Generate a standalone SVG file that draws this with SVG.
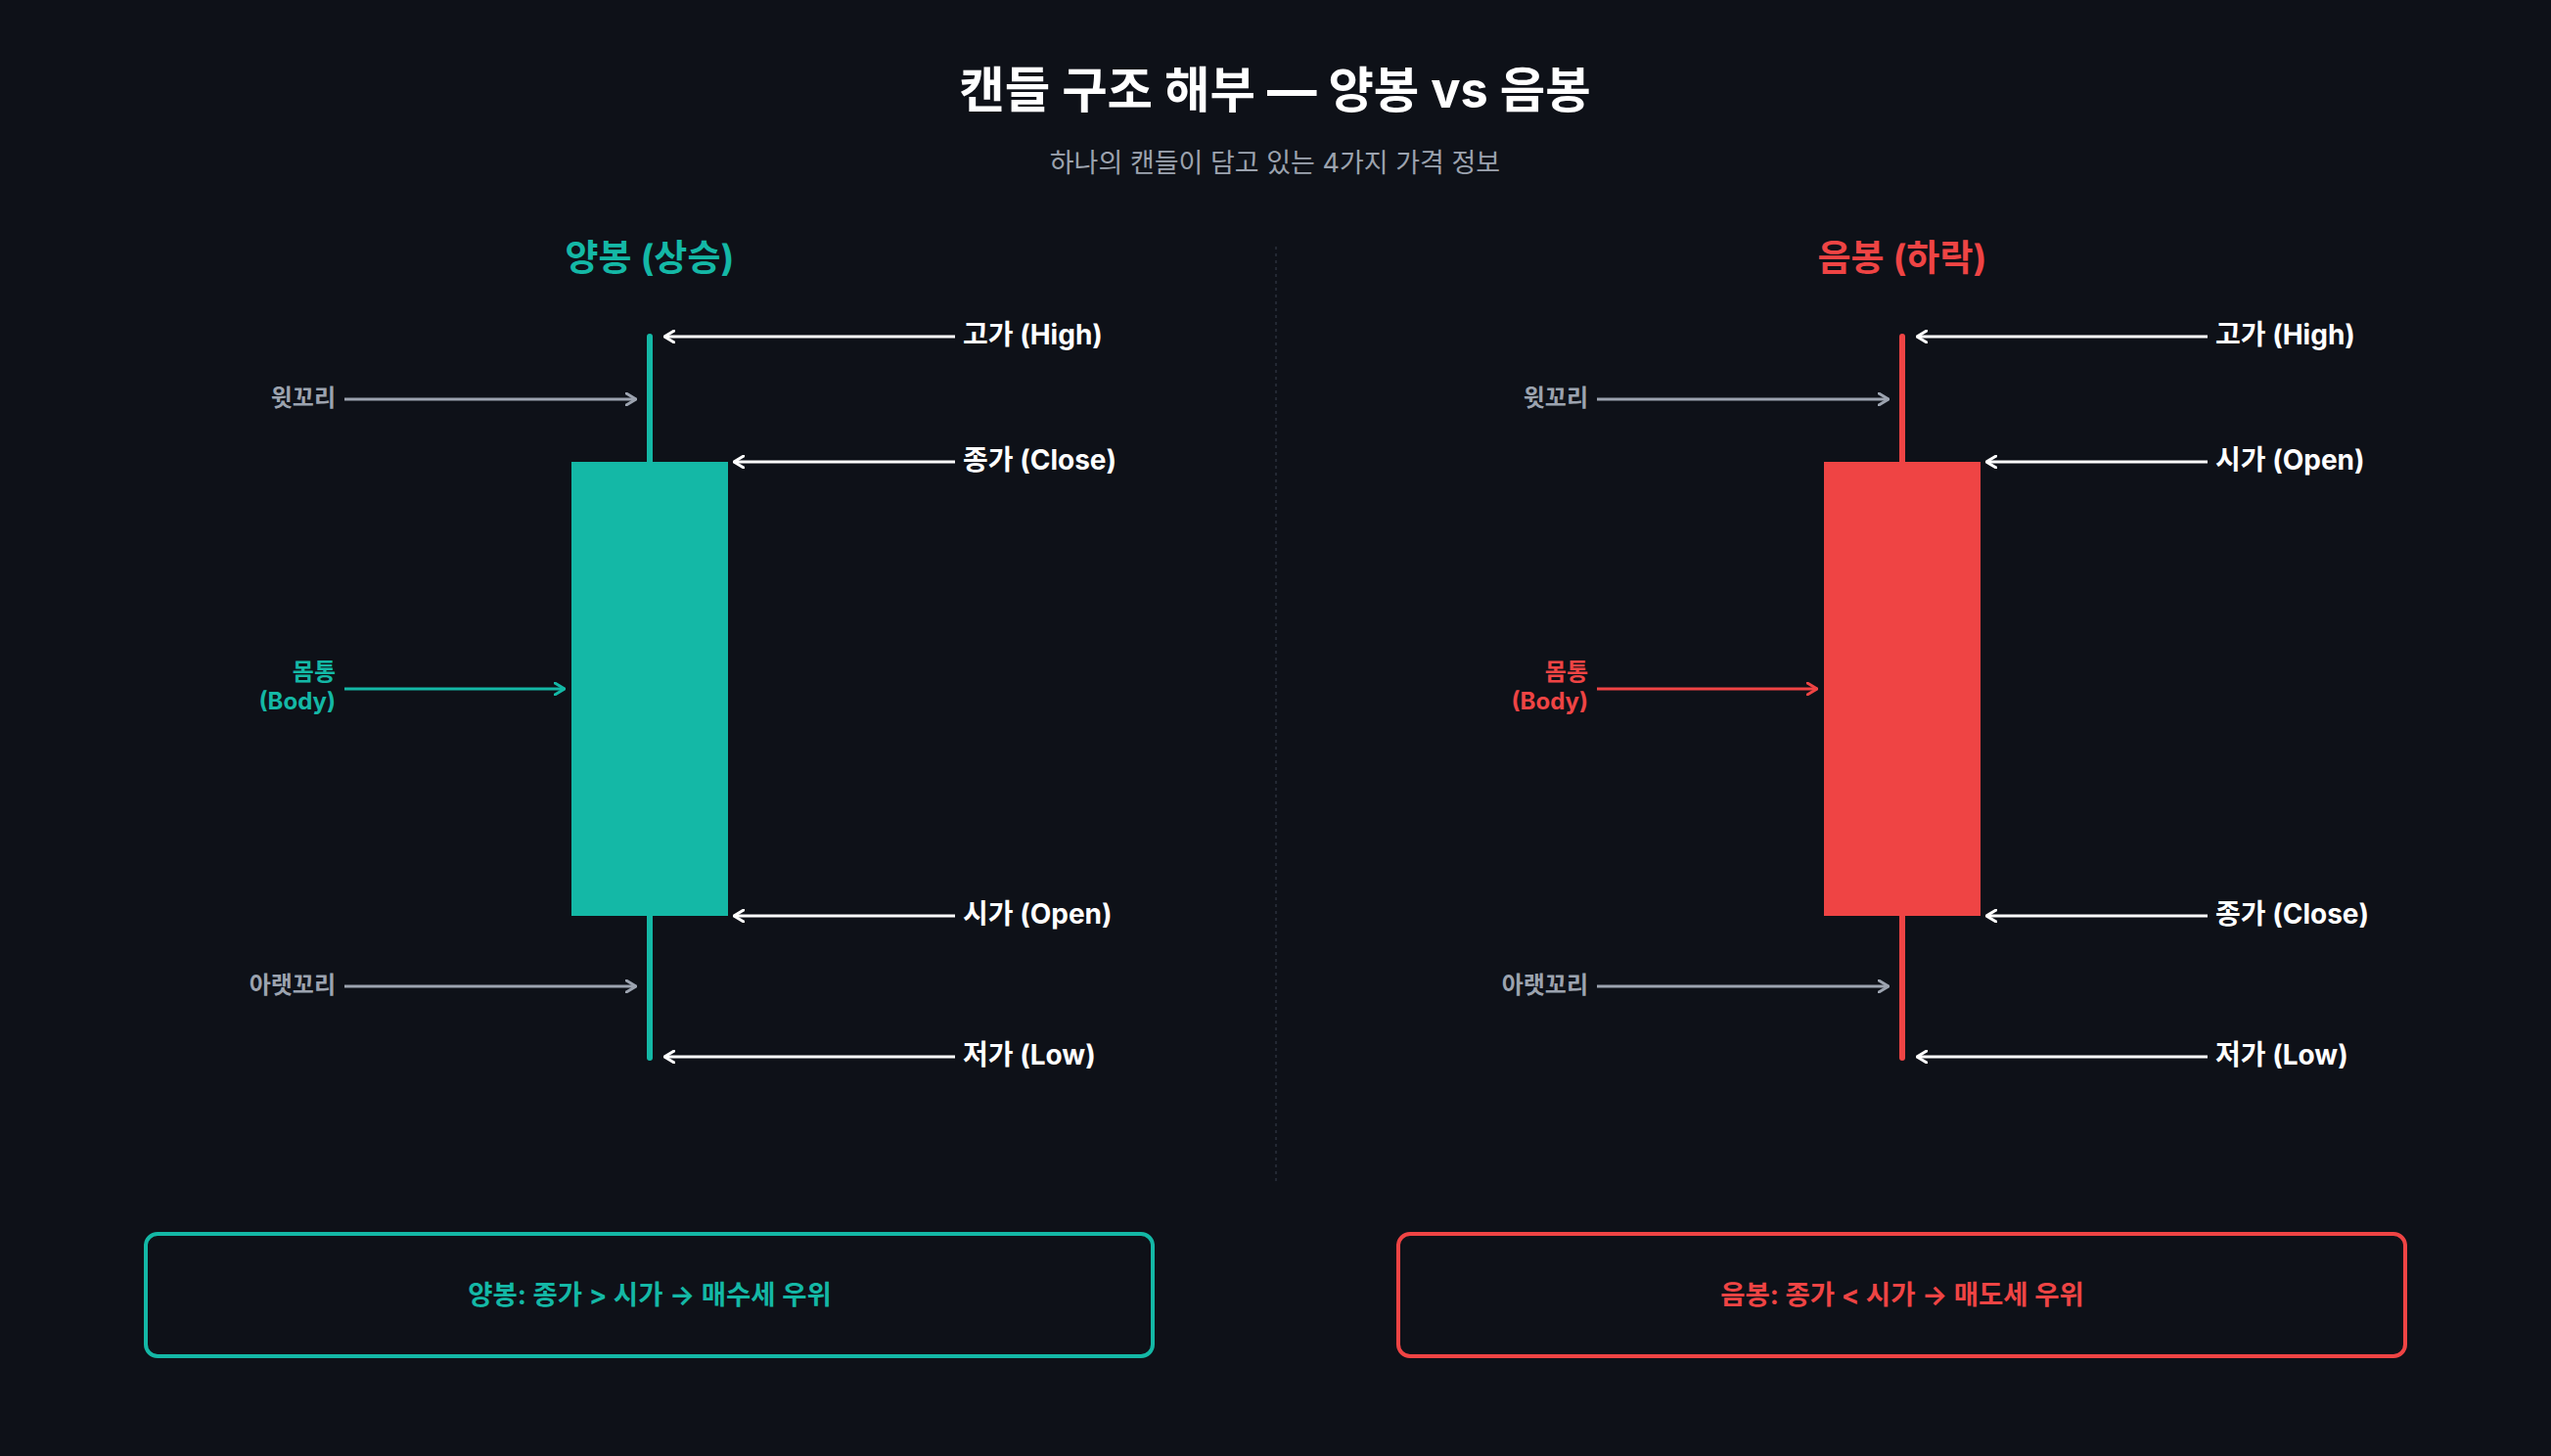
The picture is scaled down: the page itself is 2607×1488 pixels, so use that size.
<svg xmlns="http://www.w3.org/2000/svg" width="2607" height="1488" viewBox="0 0 2607 1488">
<style>
text{font-family:"Inter","Noto Sans CJK KR",sans-serif;dominant-baseline:central}
.title{font-size:50.5px;font-weight:700;fill:#ffffff}
.sub{font-size:27px;font-weight:400;fill:#9ca3af}
.hdr{font-size:37px;font-weight:700}
.lbl{font-size:28px;font-weight:700;fill:#ffffff}
.side{font-size:24px;font-weight:700}
.box{font-size:27.5px;font-weight:700}
.w{stroke:#ffffff;stroke-width:3;fill:none}
.g{stroke:#9ca3af;stroke-width:3;fill:none}
</style>
<defs>
<marker id="aw" viewBox="0 0 12 14" refX="11" refY="7" markerWidth="12" markerHeight="14" markerUnits="userSpaceOnUse" orient="auto"><path d="M1,1 L11,7 L1,13" fill="none" stroke="#ffffff" stroke-width="3" stroke-linecap="round" stroke-linejoin="round"/></marker>
<marker id="ag" viewBox="0 0 12 14" refX="11" refY="7" markerWidth="12" markerHeight="14" markerUnits="userSpaceOnUse" orient="auto"><path d="M1,1 L11,7 L1,13" fill="none" stroke="#9ca3af" stroke-width="3" stroke-linecap="round" stroke-linejoin="round"/></marker>
<marker id="at" viewBox="0 0 12 14" refX="11" refY="7" markerWidth="12" markerHeight="14" markerUnits="userSpaceOnUse" orient="auto"><path d="M1,1 L11,7 L1,13" fill="none" stroke="#14b8a6" stroke-width="3" stroke-linecap="round" stroke-linejoin="round"/></marker>
<marker id="ar" viewBox="0 0 12 14" refX="11" refY="7" markerWidth="12" markerHeight="14" markerUnits="userSpaceOnUse" orient="auto"><path d="M1,1 L11,7 L1,13" fill="none" stroke="#ef4444" stroke-width="3" stroke-linecap="round" stroke-linejoin="round"/></marker>
</defs>
<rect width="2607" height="1488" fill="#0e1118"/>
<g id="header">
<text class="title" x="1303" y="91" text-anchor="middle">캔들 구조 해부 — 양봉 vs 음봉</text>
<text class="sub" x="1303" y="166" text-anchor="middle">하나의 캔들이 담고 있는 4가지 가격 정보</text>
</g>
<line id="divider" x1="1304" y1="252" x2="1304" y2="1208" stroke="#2b313c" stroke-width="1.5" stroke-dasharray="3 4"/>
<g id="bull-candle">
<text class="hdr" x="664" y="263" text-anchor="middle" fill="#14b8a6">양봉 (상승)</text>
<line x1="664" y1="344" x2="664" y2="1081" stroke="#14b8a6" stroke-width="6" stroke-linecap="round"/>
<rect x="584" y="472" width="160" height="464" fill="#14b8a6"/>
</g>
<g id="bear-candle">
<text class="hdr" x="1944" y="263" text-anchor="middle" fill="#ef4444">음봉 (하락)</text>
<line x1="1944" y1="344" x2="1944" y2="1081" stroke="#ef4444" stroke-width="6" stroke-linecap="round"/>
<rect x="1864" y="472" width="160" height="464" fill="#ef4444"/>
</g>
<g id="connectors">
<line class="w" x1="976" y1="344" x2="679" y2="344" marker-end="url(#aw)"/>
<line class="w" x1="976" y1="472" x2="750" y2="472" marker-end="url(#aw)"/>
<line class="w" x1="976" y1="936" x2="750" y2="936" marker-end="url(#aw)"/>
<line class="w" x1="976" y1="1080" x2="679" y2="1080" marker-end="url(#aw)"/>
<line class="g" x1="352" y1="408" x2="650" y2="408" marker-end="url(#ag)"/>
<line class="g" x1="352" y1="1008" x2="650" y2="1008" marker-end="url(#ag)"/>
<line x1="352" y1="704" x2="577" y2="704" stroke="#14b8a6" stroke-width="3" marker-end="url(#at)"/>
<line class="w" x1="2256" y1="344" x2="1959" y2="344" marker-end="url(#aw)"/>
<line class="w" x1="2256" y1="472" x2="2030" y2="472" marker-end="url(#aw)"/>
<line class="w" x1="2256" y1="936" x2="2030" y2="936" marker-end="url(#aw)"/>
<line class="w" x1="2256" y1="1080" x2="1959" y2="1080" marker-end="url(#aw)"/>
<line class="g" x1="1632" y1="408" x2="1930" y2="408" marker-end="url(#ag)"/>
<line class="g" x1="1632" y1="1008" x2="1930" y2="1008" marker-end="url(#ag)"/>
<line x1="1632" y1="704" x2="1857" y2="704" stroke="#ef4444" stroke-width="3" marker-end="url(#ar)"/>
</g>
<g id="bull-labels">
<text class="lbl" x="984" y="342">고가 (High)</text>
<text class="lbl" x="984" y="470">종가 (Close)</text>
<text class="lbl" x="984" y="934">시가 (Open)</text>
<text class="lbl" x="984" y="1078">저가 (Low)</text>
<text class="side" x="343" y="406" text-anchor="end" fill="#9ca3af">윗꼬리</text>
<text class="side" x="343" y="1006" text-anchor="end" fill="#9ca3af">아랫꼬리</text>
<text class="side" x="343" y="686" text-anchor="end" fill="#14b8a6">몸통</text>
<text class="side" x="343" y="716" text-anchor="end" fill="#14b8a6">(Body)</text>
</g>
<g id="bear-labels">
<text class="lbl" x="2264" y="342">고가 (High)</text>
<text class="lbl" x="2264" y="470">시가 (Open)</text>
<text class="lbl" x="2264" y="934">종가 (Close)</text>
<text class="lbl" x="2264" y="1078">저가 (Low)</text>
<text class="side" x="1623" y="406" text-anchor="end" fill="#9ca3af">윗꼬리</text>
<text class="side" x="1623" y="1006" text-anchor="end" fill="#9ca3af">아랫꼬리</text>
<text class="side" x="1623" y="686" text-anchor="end" fill="#ef4444">몸통</text>
<text class="side" x="1623" y="716" text-anchor="end" fill="#ef4444">(Body)</text>
</g>
<g id="bull-summary">
<rect x="149" y="1261" width="1029" height="125" rx="12" fill="none" stroke="#14b8a6" stroke-width="4"/>
<text class="box" x="664" y="1323" text-anchor="middle" fill="#14b8a6">양봉: 종가 &gt; 시가 → 매수세 우위</text>
</g>
<g id="bear-summary">
<rect x="1429" y="1261" width="1029" height="125" rx="12" fill="none" stroke="#ef4444" stroke-width="4"/>
<text class="box" x="1944" y="1323" text-anchor="middle" fill="#ef4444">음봉: 종가 &lt; 시가 → 매도세 우위</text>
</g>
</svg>
